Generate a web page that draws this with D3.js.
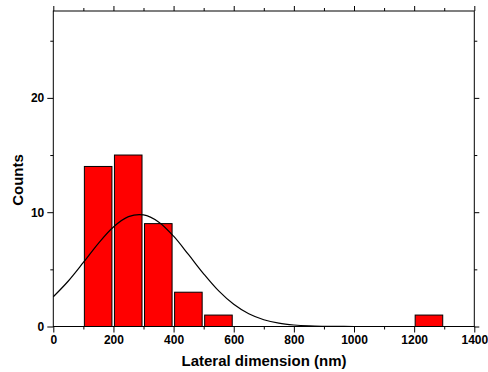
<!DOCTYPE html>
<html>
<head>
<meta charset="utf-8">
<script src="https://cdn.jsdelivr.net/npm/d3@7"></script>
<style>
body { margin: 0; background: #fff; }
svg text { font-family: "Liberation Sans", Arial, sans-serif; font-weight: bold; fill: #000; }
</style>
</head>
<body>
<svg id="chart" width="488" height="372"></svg>
<script>
// histogram bins (nm) and counts
const binStarts = [100, 200, 300, 400, 500, 1200];
const binWidth = 100;
const counts = [14, 15, 9, 3, 1, 1];

// gaussian fit
const fitX = [0, 50, 100, 150, 200, 250, 300, 350, 400, 450, 500, 550, 600, 650, 700, 750, 800, 850, 900, 950, 1000, 1100, 1200, 1300, 1400];
const fitY = [2.60, 3.98, 5.60, 7.28, 8.71, 9.61, 9.76, 9.15, 7.90, 6.28, 4.61, 3.11, 1.94, 1.11, 0.59, 0.29, 0.13, 0.05, 0.02, 0.01, 0, 0, 0, 0, 0];

const xMajor = [0, 200, 400, 600, 800, 1000, 1200, 1400];
const xMinor = [100, 300, 500, 700, 900, 1100, 1300];
const yMajor = [0, 10, 20];
const yMinor = [5, 15, 25];

const svg = d3.select("#chart");
const mLeft = 53.3, mRight = 474.3, mTop = 11, mBottom = 326.5;

const x = d3.scaleLinear().domain([0, 1400]).range([mLeft, mRight]);
const y = d3.scaleLinear().domain([0, 27.6]).range([mBottom, mTop]);

// bars
svg.append("g")
    .selectAll("rect")
    .data(binStarts.map((s, i) => ({ s: s, c: counts[i] })))
    .enter().append("rect")
    .attr("x", d => x(d.s) + 1)
    .attr("width", d => x(d.s + binWidth) - x(d.s) - 2.5)
    .attr("y", d => y(d.c))
    .attr("height", d => y(0) - y(d.c))
    .attr("fill", "#ff0000")
    .attr("stroke", "#000")
    .attr("stroke-width", 1);

// fit curve
const line = d3.line()
    .x((d, i) => x(fitX[i]))
    .y(d => y(d))
    .curve(d3.curveCatmullRom);
svg.append("path")
    .attr("d", line(fitY))
    .attr("fill", "none")
    .attr("stroke", "#000")
    .attr("stroke-width", 1.2);

// axes
function styleAxis(g) {
    g.select(".domain").remove();
    g.selectAll(".tick line").attr("stroke", "#000");
}
svg.append("g").attr("transform", `translate(0,${mBottom})`)
    .call(d3.axisBottom(x).tickValues(xMajor).tickSize(6).tickPadding(3).tickFormat(d3.format("d")))
    .call(styleAxis)
    .selectAll("text").style("font-size", "12px");
svg.append("g").attr("transform", `translate(0,${mBottom})`)
    .call(d3.axisBottom(x).tickValues(xMinor).tickSize(3).tickFormat(""))
    .call(styleAxis);
svg.append("g").attr("transform", `translate(0,${mTop})`)
    .call(d3.axisTop(x).tickValues(xMajor).tickSize(5).tickFormat(""))
    .call(styleAxis);
svg.append("g").attr("transform", `translate(0,${mTop})`)
    .call(d3.axisTop(x).tickValues(xMinor).tickSize(3).tickFormat(""))
    .call(styleAxis);

svg.append("g").attr("transform", `translate(${mLeft},0)`)
    .call(d3.axisLeft(y).tickValues(yMajor).tickSize(6).tickPadding(3))
    .call(styleAxis)
    .selectAll("text").style("font-size", "12px");
svg.append("g").attr("transform", `translate(${mLeft},0)`)
    .call(d3.axisLeft(y).tickValues(yMinor).tickSize(3).tickFormat(""))
    .call(styleAxis);
svg.append("g").attr("transform", `translate(${mRight},0)`)
    .call(d3.axisRight(y).tickValues(yMajor).tickSize(5).tickFormat(""))
    .call(styleAxis);
svg.append("g").attr("transform", `translate(${mRight},0)`)
    .call(d3.axisRight(y).tickValues(yMinor).tickSize(3).tickFormat(""))
    .call(styleAxis);

// frame
svg.append("rect")
    .attr("x", mLeft).attr("y", mTop)
    .attr("width", mRight - mLeft).attr("height", mBottom - mTop)
    .attr("fill", "none").attr("stroke", "#000").attr("stroke-width", 1);

// titles
svg.append("text")
    .attr("x", 264).attr("y", 366)
    .attr("text-anchor", "middle")
    .style("font-size", "15px")
    .text("Lateral dimension (nm)");
svg.append("text")
    .attr("transform", "translate(23,180) rotate(-90)")
    .attr("text-anchor", "middle")
    .style("font-size", "15px")
    .text("Counts");
</script>
</body>
</html>
